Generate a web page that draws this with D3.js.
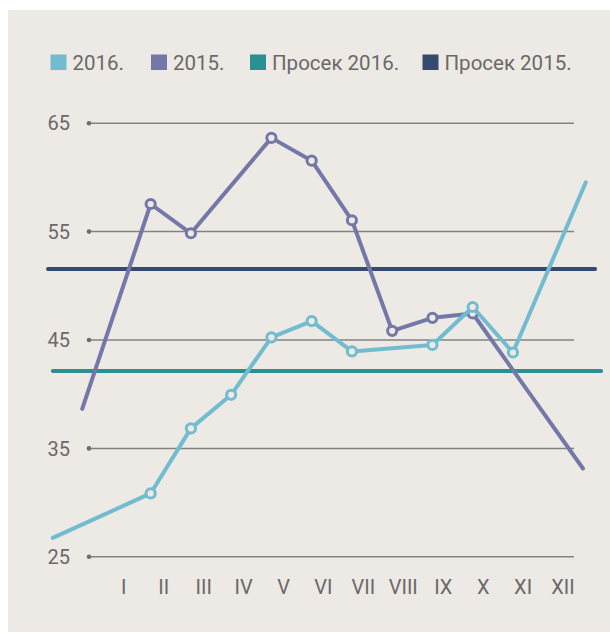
<!DOCTYPE html>
<html>
<head>
<meta charset="utf-8">
<script src="https://cdn.jsdelivr.net/npm/d3@7"></script>
<style>
  html, body { margin: 0; padding: 0; background: #fff; }
  svg { display: block; font-family: Roboto, "DejaVu Sans", sans-serif; }
</style>
</head>
<body>
<svg width="610" height="633"></svg>
<script>
// month labels on the bottom
var monthLabels = ['I','II','III','IV','V','VI','VII','VIII','IX','X','XI','XII'];
var yTicks = [25, 35, 45, 55, 65];

// 2016 series: month position, value (ends run past the first/last month)
var months2016 = [-0.43, 2, 3, 4, 5, 6, 7, 9, 10, 11, 12.81];
var values2016 = [26.7, 30.8, 36.8, 39.9, 45.2, 46.7, 43.9, 44.5, 48.0, 43.8, 59.5];

// 2015 series
var months2015 = [0.3, 2, 3, 5, 6, 7, 8, 9, 10, 12.74];
var values2015 = [38.6, 57.5, 54.8, 63.6, 61.5, 56.0, 45.8, 47.0, 47.4, 33.1];

// averages and how far their lines run (month units)
var avg2016 = 42.1, avg2016Span = [-0.43, 13.19];
var avg2015 = 51.5, avg2015Span = [-0.55, 13.04];

var legendNames = ['2016.', '2015.', 'Просек 2016.', 'Просек 2015.'];
var legendColors = ['#72bccf', '#7478a8', '#2b9094', '#354a6c'];

var svg = d3.select('svg');
var textColor = '#6b6869';

svg.append('rect').attr('x', 8).attr('y', 10).attr('width', 602).attr('height', 622)
   .attr('fill', '#ede9e5');

var x = d3.scaleLinear().domain([1, 12]).range([110.4, 553.2]);
var y = d3.scaleLinear().domain([25, 65]).range([556.3, 122.7]);
var xLab = d3.scalePoint().domain(monthLabels).range([123.3, 562.5]);

// y axis + gridlines
var gy = svg.append('g').attr('transform', 'translate(89,0)')
  .call(d3.axisLeft(y).tickValues(yTicks).tickSize(-485).tickPadding(19));
gy.select('.domain').remove();
gy.selectAll('.tick line').attr('stroke', '#858382').attr('stroke-width', 1.5);
gy.selectAll('.tick').append('circle').attr('r', 2.3).attr('fill', '#6f6d6d');
gy.selectAll('.tick text').attr('fill', textColor).attr('font-size', 20)
  .attr('font-family', 'Roboto').attr('dy', '0.36em');

// x axis labels
var gx = svg.append('g').attr('transform', 'translate(0,579.5)')
  .call(d3.axisBottom(xLab).tickSize(0).tickPadding(0));
gx.select('.domain').remove();
gx.selectAll('.tick text').attr('fill', textColor).attr('font-size', 20)
  .attr('font-family', 'Roboto');

// average lines
function avgLine(v, span, color) {
  svg.append('line')
     .attr('x1', x(span[0])).attr('x2', x(span[1]))
     .attr('y1', y(v)).attr('y2', y(v))
     .attr('stroke', color).attr('stroke-width', 4).attr('stroke-linecap', 'round');
}
avgLine(avg2015, avg2015Span, legendColors[3]);
avgLine(avg2016, avg2016Span, legendColors[2]);

var line = d3.line().x(function (d) { return x(d[0]); }).y(function (d) { return y(d[1]); });

function series(ms, vs, color) {
  var pts = ms.map(function (m, i) { return [m, vs[i]]; });
  svg.append('path').datum(pts).attr('d', line)
     .attr('fill', 'none').attr('stroke', color).attr('stroke-width', 4)
     .attr('stroke-linejoin', 'round').attr('stroke-linecap', 'round');
  svg.append('g').selectAll('circle').data(pts.slice(1, -1)).enter().append('circle')
     .attr('cx', function (d) { return x(d[0]); })
     .attr('cy', function (d) { return y(d[1]); })
     .attr('r', 4.6).attr('fill', '#ede9e5').attr('stroke', color).attr('stroke-width', 3);
}
series(months2015, values2015, legendColors[1]);
series(months2016, values2016, legendColors[0]);

// legend
var legendX = [50.5, 151, 250, 422.5];
var lg = svg.append('g').selectAll('g').data(legendNames).enter().append('g')
  .attr('transform', function (d, i) { return 'translate(' + legendX[i] + ',54.5)'; });
lg.append('rect').attr('width', 16).attr('height', 15.5)
  .attr('fill', function (d, i) { return legendColors[i]; });
lg.append('text').attr('x', 22).attr('y', 15).text(function (d) { return d; })
  .attr('fill', textColor).attr('font-size', 20.5).attr('font-family', 'Roboto');
</script>
</body>
</html>
